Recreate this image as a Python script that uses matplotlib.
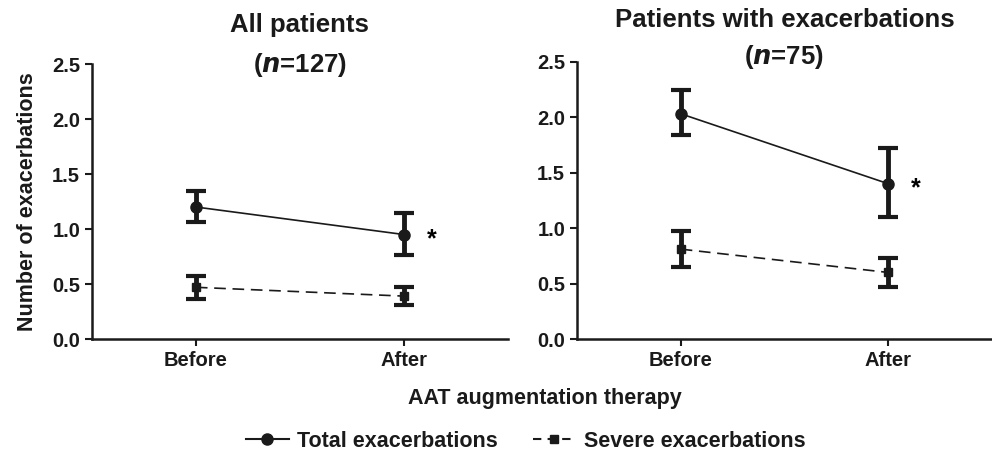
import numpy as np
import matplotlib.pyplot as plt
from matplotlib.lines import Line2D

plt.rcParams['font.family'] = ['Liberation Sans', 'DejaVu Sans']
plt.rcParams['font.weight'] = 'bold'

groups = ['Before', 'After']

# All patients (n=127)
all_total = [1.20, 0.95]
all_total_lo = [1.06, 0.76]
all_total_hi = [1.35, 1.15]
all_severe = [0.47, 0.39]
all_severe_lo = [0.36, 0.31]
all_severe_hi = [0.57, 0.475]

# Patients with exacerbations (n=75)
exa_total = [2.03, 1.40]
exa_total_lo = [1.84, 1.10]
exa_total_hi = [2.24, 1.72]
exa_severe = [0.81, 0.60]
exa_severe_lo = [0.65, 0.47]
exa_severe_hi = [0.97, 0.73]

yticks = [0.0, 0.5, 1.0, 1.5, 2.0, 2.5]

fig = plt.figure(figsize=(9.92, 4.54), dpi=100)
ax1 = fig.add_axes([0.0927, 0.2533, 0.419, 0.6057])
ax2 = fig.add_axes([0.5817, 0.2533, 0.418, 0.611])


def draw_panel(ax, total, tlo, thi, severe, slo, shi, title, sub, ty, sy):
    x = np.arange(len(groups))
    t = np.array(total)
    s = np.array(severe)
    ax.errorbar(x, t, yerr=[t - np.array(tlo), np.array(thi) - t],
                color='#1a1a1a', marker='o', markersize=8, linewidth=1.2,
                elinewidth=3.5, capsize=7, capthick=3)
    ax.errorbar(x, s, yerr=[s - np.array(slo), np.array(shi) - s],
                color='#1a1a1a', marker='s', markersize=6, linewidth=1.2,
                linestyle=(0, (7, 4)), elinewidth=3.5, capsize=7, capthick=3)
    ax.text(x[1] + 0.135, t[1] - 0.04, '*', fontsize=18, ha='center', va='center')
    ax.set_xlim(-0.5, 1.5)
    ax.set_ylim(0, 2.5)
    ax.set_yticks(yticks)
    ax.set_yticklabels(['%.1f' % v for v in yticks])
    ax.set_xticks(x)
    ax.set_xticklabels(groups)
    ax.tick_params(labelsize=14.5, width=1.5, length=5, colors='#1a1a1a')
    for sp in ['top', 'right']:
        ax.spines[sp].set_visible(False)
    for sp in ['left', 'bottom']:
        ax.spines[sp].set_linewidth(1.8)
        ax.spines[sp].set_color('#1a1a1a')
    ax.text(0.5, ty, title, transform=ax.transAxes, fontsize=18.5,
            fontweight='bold', ha='center', va='center', color='#1a1a1a')
    ax.text(0.5, sy, sub, transform=ax.transAxes, fontsize=18.5,
            fontweight='bold', ha='center', va='center', color='#1a1a1a')


draw_panel(ax1, all_total, all_total_lo, all_total_hi,
           all_severe, all_severe_lo, all_severe_hi,
           'All patients', '($\\mathbfit{n}$=127)', 1.142, 0.996)
draw_panel(ax2, exa_total, exa_total_lo, exa_total_hi,
           exa_severe, exa_severe_lo, exa_severe_hi,
           'Patients with exacerbations', '($\\mathbfit{n}$=75)', 1.150, 1.017)

ax1.set_ylabel('Number of exacerbations', fontsize=15.5, fontweight='bold',
               labelpad=10, color='#1a1a1a')

fig.text(0.549, 0.123, 'AAT augmentation therapy', fontsize=15.5, fontweight='bold',
         ha='center', va='center', color='#1a1a1a')

handles = [
    Line2D([], [], color='#1a1a1a', marker='o', markersize=8, linewidth=1.5),
    Line2D([], [], color='#1a1a1a', marker='s', markersize=6, linewidth=1.5,
           linestyle=(0, (4, 3))),
]
fig.legend(handles, ['Total exacerbations', 'Severe exacerbations'],
           loc='center', bbox_to_anchor=(0.53, 0.028), ncol=2, frameon=False,
           prop={'size': 15.5, 'weight': 'bold'}, handlelength=2.0,
           columnspacing=1.6, handletextpad=0.4, labelcolor='#1a1a1a')

fig.savefig('out.png', dpi=100)
